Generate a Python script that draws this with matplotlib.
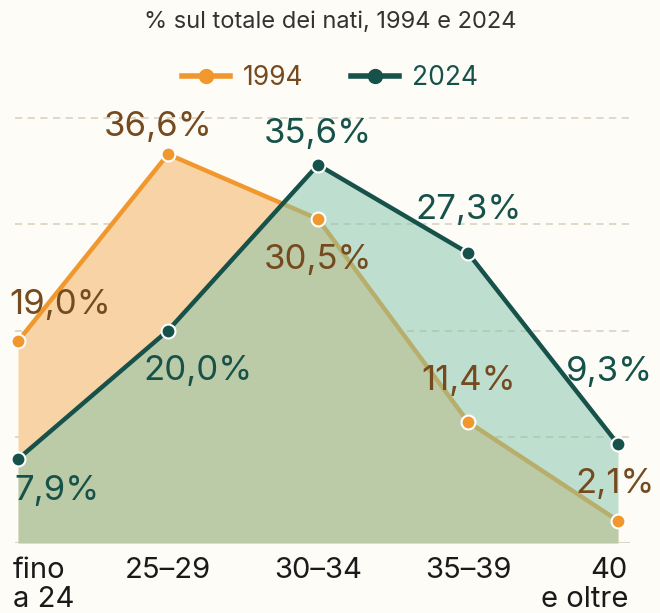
import matplotlib.pyplot as plt
import matplotlib.transforms as mtransforms

plt.rcParams['font.family'] = ['Inter', 'DejaVu Sans']

# dati
categories = ["fino\na 24", "25–29", "30–34", "35–39", "40\ne oltre"]
values_1994 = [19.0, 36.6, 30.5, 11.4, 2.1]
values_2024 = [7.9, 20.0, 35.6, 27.3, 9.3]
labels_1994 = ["19,0%", "36,6%", "30,5%", "11,4%", "2,1%"]
labels_2024 = ["7,9%", "20,0%", "35,6%", "27,3%", "9,3%"]

# posizione delle etichette rispetto ai punti (pixel)
offs_1994 = [(42, 36), (-10, 27), (0, -41), (1, 41), (-3, 37)]
offs_2024 = [(39, -32), (30, -40), (0, 31), (1, 43), (-9, 72)]

bg = "#fdfcf7"
orange = "#f0982e"
orange_fill = "#f7d3a6"
brown = "#744a1e"
teal = "#17524a"
teal_fill = "#81c4a9"

fig = plt.figure(figsize=(6.6, 6.13), dpi=100, facecolor=bg)
ax = fig.add_axes([15 / 660, 70 / 613, 615 / 660, 443 / 613])
ax.set_facecolor(bg)

x = list(range(len(categories)))

for g in [10, 20, 30, 40]:
    ax.axhline(g, color="#ddd5c5", lw=1.3, ls=(0, (4, 3)), zorder=0)
ax.axhline(0, color="#ddd6c8", lw=1.5, zorder=1)

ax.fill_between(x, values_1994, 0, color=orange_fill, lw=0, zorder=1)
ax.plot(x, values_1994, color=orange, lw=3.2, zorder=2)
ax.fill_between(x, values_2024, 0, color=teal_fill, alpha=0.5, lw=0, zorder=3)
ax.plot(x, values_2024, color=teal, lw=3.2, zorder=4, solid_joinstyle="round")

ax.plot(x, values_1994, ls="none", marker="o", ms=10, mfc=orange, mec="white", mew=1.5,
        zorder=5, clip_on=False)
ax.plot(x, values_2024, ls="none", marker="o", ms=10, mfc=teal, mec="white", mew=1.5,
        zorder=5, clip_on=False)

for xi, v, lab, (dx, dy) in zip(x, values_1994, labels_1994, offs_1994):
    ax.annotate(lab, (xi, v), xytext=(dx, dy), textcoords="offset pixels",
                ha="center", va="center", fontsize=25, color=brown, zorder=6)
for xi, v, lab, (dx, dy) in zip(x, values_2024, labels_2024, offs_2024):
    ax.annotate(lab, (xi, v), xytext=(dx, dy), textcoords="offset pixels",
                ha="center", va="center", fontsize=25, color=teal, zorder=6)

ax.set_xlim(-0.02, 4.08)
ax.set_ylim(0, 41.7)
ax.set_yticks([])
ax.set_xticks(x)
ax.set_xticklabels(categories, fontsize=21, color="#1a1a1a", linespacing=1.1)
ax.tick_params(axis="x", length=0, pad=10)
for s in ax.spines.values():
    s.set_visible(False)

# prima e ultima etichetta allineate ai bordi
lbls = ax.get_xticklabels()
lbls[0].set_horizontalalignment("left")
lbls[0].set_transform(lbls[0].get_transform() + mtransforms.ScaledTranslation(-5 / 100, 0, fig.dpi_scale_trans))
lbls[-1].set_horizontalalignment("right")
lbls[-1].set_transform(lbls[-1].get_transform() + mtransforms.ScaledTranslation(10 / 100, 0, fig.dpi_scale_trans))

fig.text(0.5, 1 - 22 / 613, "% sul totale dei nati, 1994 e 2024", ha="center", va="center",
         fontsize=17, color="#333333")

h1, = ax.plot([], [], color=orange, lw=4, marker="o", ms=10, mfc=orange, mec=orange)
h2, = ax.plot([], [], color=teal, lw=4, marker="o", ms=10, mfc=teal, mec=teal)
leg = fig.legend([h1, h2], ["1994", "2024"], loc="center", bbox_to_anchor=(0.5, 1 - 78 / 613),
                 ncol=2, frameon=False, fontsize=19, handlelength=1.8, columnspacing=1.8,
                 handletextpad=0.5)
for t, c in zip(leg.get_texts(), [brown, teal]):
    t.set_color(c)

fig.savefig("out.png", dpi=100, facecolor=bg)
